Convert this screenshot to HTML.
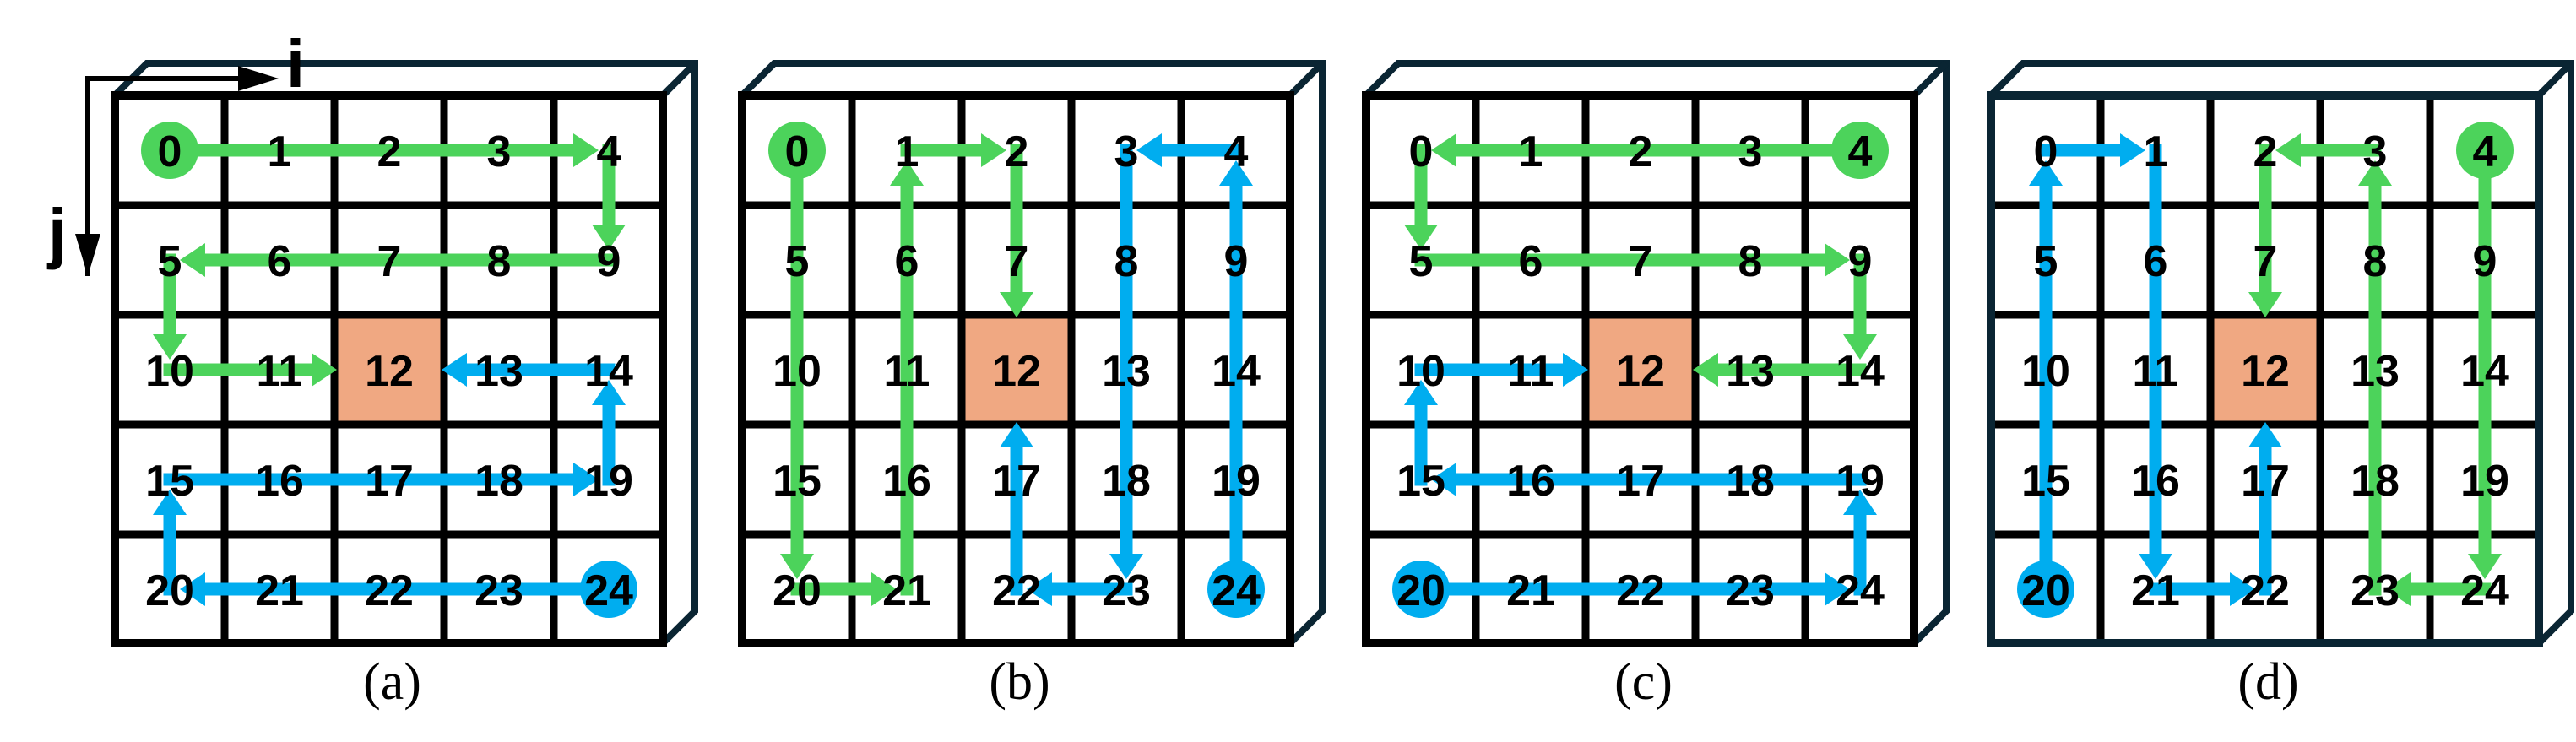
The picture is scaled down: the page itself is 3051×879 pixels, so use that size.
<!DOCTYPE html>
<html><head><meta charset="utf-8"><style>
html,body{margin:0;padding:0;background:#fff;}
svg{display:block;}
</style></head><body>
<svg id="fig" width="3051" height="879" viewBox="0 0 3051 879" xmlns="http://www.w3.org/2000/svg">
<g id="root"></g>
</svg>
<script>
// data
const panelLabels = ['(a)', '(b)', '(c)', '(d)'];
const cellNumbers = [0,1,2,3,4,5,6,7,8,9,10,11,12,13,14,15,16,17,18,19,20,21,22,23,24];
const centerCell = 12;
const greenPaths = [
  [0,4,9,5,10,12],
  [0,20,21,1,2,12],
  [4,0,5,9,14,12],
  [4,24,23,3,2,12]
];
const bluePaths = [
  [24,20,15,19,14,12],
  [24,4,3,23,22,12],
  [20,24,19,15,10,12],
  [20,0,1,21,22,12]
];

const NS='http://www.w3.org/2000/svg';
const root=document.getElementById('root');
const panelX=[131,874,1613,2353];
const gridTop=108, outer=659, lw=10, pitch=130;
const GREEN='#4cd35b', BLUE='#00adef', ORANGE='#f0a882', NAVY='#0a2533';
function mk(tag,attrs,parent){const e=document.createElementNS(NS,tag);for(const k in attrs)e.setAttribute(k,attrs[k]);(parent||root).appendChild(e);return e;}
function cellCenter(px,n){const c=n%5,r=Math.floor(n/5);const x0=px+lw/2,y0=gridTop+lw/2;return [x0+pitch*c+pitch/2,y0+pitch*r+pitch/2];}

function drawPath(g,px,path,color,name){
  const pg=mk('g',{},g);
  
  
  for(let k=0;k<path.length-1;k++){
    const a=cellCenter(px,path[k]), b=cellCenter(px,path[k+1]);
    const dx=Math.sign(b[0]-a[0]), dy=Math.sign(b[1]-a[1]);
    const back=(path[k+1]===centerCell)?62:12;
    const tip=[b[0]-dx*back,b[1]-dy*back];
    const base=[tip[0]-dx*30,tip[1]-dy*30];
    const sx=a[0]-dx*7.5, sy=a[1]-dy*7.5;
    const ln=mk('line',{x1:sx,y1:sy,x2:base[0]+dx*2,y2:base[1]+dy*2,stroke:color,'stroke-width':15},pg);
    
    
    const px2=-dy, py2=dx;
    const head=mk('polygon',{points:`${tip[0]},${tip[1]} ${base[0]+px2*20},${base[1]+py2*20} ${base[0]-px2*20},${base[1]-py2*20}`,fill:color},pg);
    
    
  }
  for(let k=1;k<path.length-1;k++){
    const c=cellCenter(px,path[k]);
    const sq=mk('rect',{x:c[0]-7.5,y:c[1]-7.5,width:15,height:15,fill:color},pg);
    
    
  }
}

panelLabels.forEach((lab,p)=>{
  const px=panelX[p];
  const g=mk('g',{});
  
  
  const L=px+lw/2, T=gridTop+lw/2, R=px+outer-lw/2, B=gridTop+outer-lw/2, off=38;
  const box=mk('polyline',{points:`${L},${T} ${L+off},${T-off} ${R+off},${T-off} ${R+off},${B-off} ${R},${B}`,fill:'none',stroke:NAVY,'stroke-width':8},g);
  
  
  const dg=mk('line',{x1:R,y1:T,x2:R+off,y2:T-off,stroke:NAVY,'stroke-width':8},g);
  
  
  const cc=cellCenter(px,centerCell);
  const oc=mk('rect',{x:cc[0]-pitch/2,y:cc[1]-pitch/2,width:pitch,height:pitch,fill:ORANGE},g);
  
  
  for(let k=1;k<5;k++){
    const v=mk('line',{x1:L+pitch*k,y1:T,x2:L+pitch*k,y2:B,stroke:'#000','stroke-width':9},g);
    
    
    const h=mk('line',{x1:L,y1:T+pitch*k,x2:R,y2:T+pitch*k,stroke:'#000','stroke-width':9},g);
    
    
  }
  const fr=mk('rect',{x:L,y:T,width:R-L,height:B-T,fill:'none',stroke:p===3?NAVY:'#000','stroke-width':lw},g);
  
  
  const gs=cellCenter(px,greenPaths[p][0]);
  const c1=mk('circle',{cx:gs[0],cy:gs[1],r:34,fill:GREEN},g);
  
  
  const bs=cellCenter(px,bluePaths[p][0]);
  const c2=mk('circle',{cx:bs[0],cy:bs[1],r:34,fill:BLUE},g);
  
  
  drawPath(g,px,greenPaths[p],GREEN,'green-path');
  drawPath(g,px,bluePaths[p],BLUE,'blue-path');
  cellNumbers.forEach(n=>{
    const c=cellCenter(px,n);
    const t=mk('text',{x:c[0],y:c[1]+19,'text-anchor':'middle','font-family':'"Liberation Sans", sans-serif','font-weight':'bold','font-size':52,fill:'#000'},g);
    t.textContent=n;
    
    
  });
  const tl=mk('text',{x:px+outer/2+4,y:828,'text-anchor':'middle','font-family':'"Liberation Serif", serif','font-size':62,fill:'#000'},g);
  tl.textContent=lab;
  
  
});

const ax=mk('g',{});


mk('polyline',{points:'104,327 104,93 290,93',fill:'none',stroke:'#000','stroke-width':6},ax);
mk('polygon',{points:'330,93 282,78 282,108',fill:'#000'},ax);
mk('polygon',{points:'104,327 89,277 119,277',fill:'#000'},ax);
const ti=mk('text',{x:350,y:103,'text-anchor':'middle','font-family':'"Liberation Sans", sans-serif','font-weight':'bold','font-size':80,fill:'#000'},ax);
ti.textContent='i';


const tj=mk('text',{x:68,y:303,'text-anchor':'middle','font-family':'"Liberation Sans", sans-serif','font-weight':'bold','font-size':80,fill:'#000'},ax);
tj.textContent='j';


</script>
</body></html>
